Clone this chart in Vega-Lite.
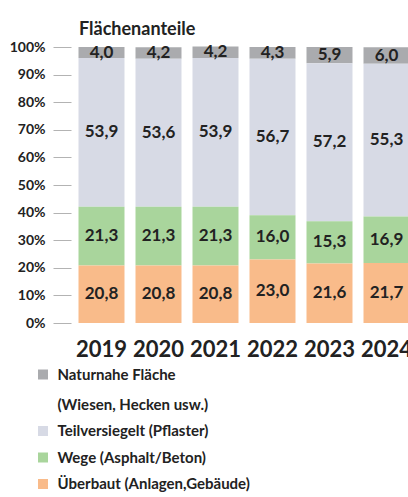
{
  "$schema": "https://vega.github.io/schema/vega-lite/v6.json",
  "width": 342,
  "height": 276,
  "autosize": "none",
  "padding": {"left": 73, "top": 47, "right": 0, "bottom": 174},
  "background": "white",
  "config": {
    "view": {"stroke": null},
    "locale": {"number": {"decimal": ",", "thousands": ".", "grouping": [3], "currency": ["", " €"]}},
    "font": "Lato"
  },
  "title": {
    "text": "Flächenanteile",
    "anchor": "start",
    "frame": "group",
    "font": "Lato",
    "fontSize": 18,
    "fontWeight": "bold",
    "color": "#222222",
    "baseline": "alphabetic",
    "offset": 14,
    "dx": 6,
    "dy": 27
  },
  "data": {
    "values": [
      {"Jahr": "2019", "Kategorie": "Naturnahe Fläche (Wiesen, Hecken usw.)", "Anteil": 4.0},
      {"Jahr": "2019", "Kategorie": "Teilversiegelt (Pflaster)", "Anteil": 53.9},
      {"Jahr": "2019", "Kategorie": "Wege (Asphalt/Beton)", "Anteil": 21.3},
      {"Jahr": "2019", "Kategorie": "Überbaut (Anlagen,Gebäude)", "Anteil": 20.8},
      {"Jahr": "2020", "Kategorie": "Naturnahe Fläche (Wiesen, Hecken usw.)", "Anteil": 4.2},
      {"Jahr": "2020", "Kategorie": "Teilversiegelt (Pflaster)", "Anteil": 53.6},
      {"Jahr": "2020", "Kategorie": "Wege (Asphalt/Beton)", "Anteil": 21.3},
      {"Jahr": "2020", "Kategorie": "Überbaut (Anlagen,Gebäude)", "Anteil": 20.8},
      {"Jahr": "2021", "Kategorie": "Naturnahe Fläche (Wiesen, Hecken usw.)", "Anteil": 4.2},
      {"Jahr": "2021", "Kategorie": "Teilversiegelt (Pflaster)", "Anteil": 53.9},
      {"Jahr": "2021", "Kategorie": "Wege (Asphalt/Beton)", "Anteil": 21.3},
      {"Jahr": "2021", "Kategorie": "Überbaut (Anlagen,Gebäude)", "Anteil": 20.8},
      {"Jahr": "2022", "Kategorie": "Naturnahe Fläche (Wiesen, Hecken usw.)", "Anteil": 4.3},
      {"Jahr": "2022", "Kategorie": "Teilversiegelt (Pflaster)", "Anteil": 56.7},
      {"Jahr": "2022", "Kategorie": "Wege (Asphalt/Beton)", "Anteil": 16.0},
      {"Jahr": "2022", "Kategorie": "Überbaut (Anlagen,Gebäude)", "Anteil": 23.0},
      {"Jahr": "2023", "Kategorie": "Naturnahe Fläche (Wiesen, Hecken usw.)", "Anteil": 5.9},
      {"Jahr": "2023", "Kategorie": "Teilversiegelt (Pflaster)", "Anteil": 57.2},
      {"Jahr": "2023", "Kategorie": "Wege (Asphalt/Beton)", "Anteil": 15.3},
      {"Jahr": "2023", "Kategorie": "Überbaut (Anlagen,Gebäude)", "Anteil": 21.6},
      {"Jahr": "2024", "Kategorie": "Naturnahe Fläche (Wiesen, Hecken usw.)", "Anteil": 6.0},
      {"Jahr": "2024", "Kategorie": "Teilversiegelt (Pflaster)", "Anteil": 55.3},
      {"Jahr": "2024", "Kategorie": "Wege (Asphalt/Beton)", "Anteil": 16.9},
      {"Jahr": "2024", "Kategorie": "Überbaut (Anlagen,Gebäude)", "Anteil": 21.7}
    ]
  },
  "encoding": {
    "x": {
      "field": "Jahr",
      "type": "nominal",
      "scale": {"paddingInner": 0.193, "paddingOuter": 0.0965},
      "axis": {
        "title": null,
        "labelAngle": 0,
        "domain": false,
        "ticks": false,
        "labelFont": "Lato",
        "labelFontSize": 22,
        "labelFontWeight": "bold",
        "labelColor": "#222222",
        "labelPadding": 16
      }
    },
    "y": {
      "field": "Anteil",
      "type": "quantitative",
      "stack": "zero",
      "scale": {"domain": [0, 100], "nice": false},
      "axis": {
        "title": null,
        "values": [0, 10, 20, 30, 40, 50, 60, 70, 80, 90, 100],
        "labelExpr": "datum.value + '%'",
        "grid": false,
        "domain": false,
        "tickSize": 18,
        "tickColor": "#b3b3b3",
        "tickWidth": 1,
        "offset": 2,
        "labelPadding": 8,
        "labelFont": "Lato",
        "labelFontSize": 14,
        "labelFontWeight": "bold",
        "labelColor": "#222222"
      }
    },
    "order": {"field": "Kategorie", "type": "nominal", "sort": "descending"}
  },
  "layer": [
    {
      "mark": {"type": "bar"},
      "encoding": {
        "color": {
          "field": "Kategorie",
          "type": "nominal",
          "scale": {
            "domain": ["Naturnahe Fläche (Wiesen, Hecken usw.)", "Teilversiegelt (Pflaster)", "Wege (Asphalt/Beton)", "Überbaut (Anlagen,Gebäude)"],
            "range": ["#aaabae", "#d7dae5", "#a9d59c", "#f9bb8a"]
          },
          "legend": {
            "title": null,
            "orient": "none",
            "legendX": -37.5,
            "legendY": 320,
            "padding": 0,
            "symbolType": "square",
            "symbolSize": 100,
            "symbolStrokeWidth": 0,
            "labelFont": "Lato",
            "labelFontSize": 15,
            "labelFontWeight": "bold",
            "labelColor": "#222222",
            "labelOffset": 7,
            "labelLimit": 400,
            "labelBaseline": "alphabetic",
            "rowPadding": 10.5,
            "labelExpr": "datum.label == 'Naturnahe Fläche (Wiesen, Hecken usw.)' ? ['Naturnahe Fläche', '(Wiesen, Hecken usw.)'] : datum.label",
            "encode": {
              "labels": {"update": {"lineHeight": {"value": 30}, "dy": {"value": 5}}}
            }
          }
        }
      }
    },
    {
      "mark": {"type": "text", "font": "Lato", "fontSize": 17, "fontWeight": "bold", "color": "#222222", "baseline": "middle"},
      "encoding": {
        "y": {"field": "Anteil", "type": "quantitative", "stack": "zero", "bandPosition": 0.5},
        "detail": {"field": "Kategorie", "type": "nominal"},
        "text": {"field": "Anteil", "type": "quantitative", "format": ".1f"}
      }
    }
  ]
}
